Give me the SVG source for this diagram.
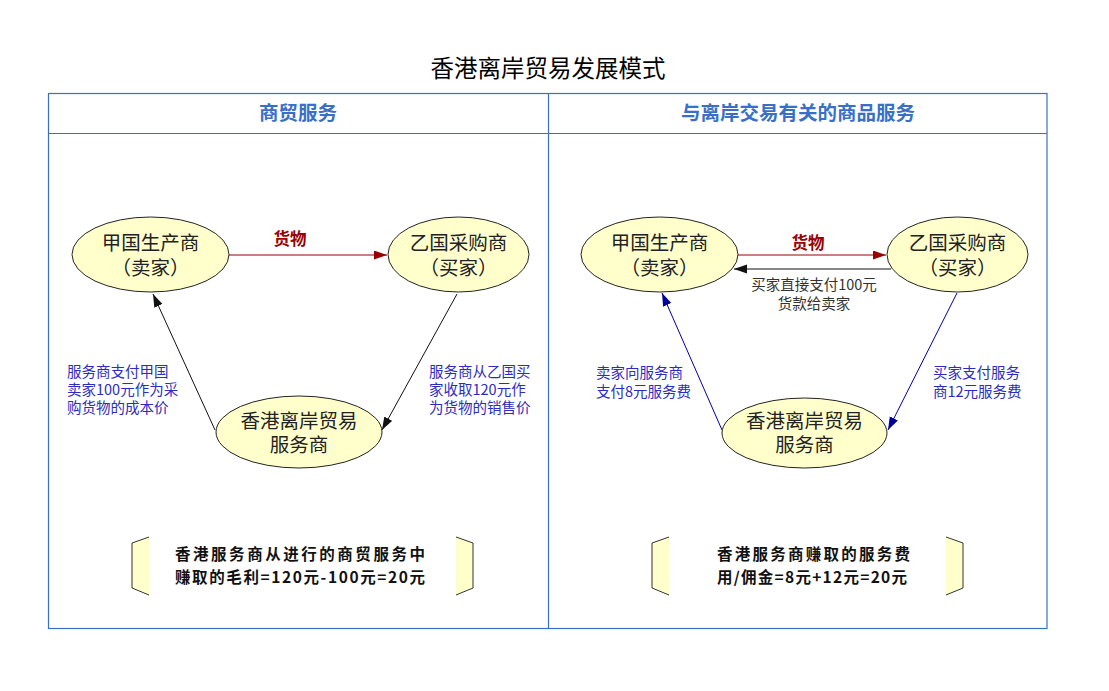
<svg xmlns="http://www.w3.org/2000/svg" width="1109" height="691" viewBox="0 0 1109 691">
<style>
.t{font-family:"Noto Sans CJK SC","Liberation Sans",sans-serif;}
.title{font-size:23.5px;fill:#000;}
.hdr{font-size:19.5px;font-weight:bold;fill:#3a6fc8;}
.node{fill:#ffffcc;stroke:#222;stroke-width:1;}
.nt{font-size:19.5px;fill:#222;}
.lbl{font-size:14.5px;fill:#2c2cc0;}
.blk{font-size:14.5px;fill:#333;}
.goods{font-size:16.5px;font-weight:bold;fill:#990000;}
.box{fill:#ffffcc;stroke:#333;stroke-width:1;}
.boxfill{fill:#ffffcc;stroke:none;}
.bt{font-size:15.5px;font-weight:bold;fill:#111;}
.frame{fill:none;stroke:#3a6fc8;stroke-width:1.2;}
</style>
<defs>
<marker id="ab" markerUnits="userSpaceOnUse" markerWidth="14" markerHeight="10" refX="13" refY="4.5" orient="auto"><path d="M0,0 L13,4.5 L0,9 z" fill="#111"/></marker>
<marker id="ar" markerUnits="userSpaceOnUse" markerWidth="14" markerHeight="10" refX="13" refY="4.5" orient="auto"><path d="M0,0 L13,4.5 L0,9 z" fill="#990000"/></marker>
<marker id="au" markerUnits="userSpaceOnUse" markerWidth="14" markerHeight="10" refX="13" refY="4.5" orient="auto"><path d="M0,0 L13,4.5 L0,9 z" fill="#0000a0"/></marker>
</defs>
<rect width="1109" height="691" fill="#fff"/>
<text class="t title" x="548" y="77" text-anchor="middle">香港离岸贸易发展模式</text>
<g id="frame">
<rect class="frame" x="48.5" y="93.5" width="998.5" height="535"/>
<line class="frame" x1="48.5" y1="133.5" x2="1047" y2="133.5"/>
<line class="frame" x1="548.5" y1="93.5" x2="548.5" y2="628.5" stroke-width="0.8"/>
<text class="t hdr" x="298" y="120" text-anchor="middle">商贸服务</text>
<text class="t hdr" x="798" y="120" text-anchor="middle">与离岸交易有关的商品服务</text>
</g>
<g id="connectors">
<line x1="229" y1="255" x2="387" y2="255" stroke="#990000" stroke-width="1.2" marker-end="url(#ar)"/>
<line x1="215" y1="430" x2="153" y2="294" stroke="#111" stroke-width="1" marker-end="url(#ab)"/>
<line x1="457" y1="294" x2="382" y2="430" stroke="#111" stroke-width="1" marker-end="url(#ab)"/>
<line x1="738" y1="255" x2="886" y2="255" stroke="#990000" stroke-width="1.2" marker-end="url(#ar)"/>
<line x1="891" y1="269" x2="734" y2="269" stroke="#111" stroke-width="1.2" marker-end="url(#ab)"/>
<line x1="722" y1="430" x2="662" y2="293" stroke="#0000a0" stroke-width="1" marker-end="url(#au)"/>
<line x1="957" y1="293" x2="888" y2="430" stroke="#0000a0" stroke-width="1" marker-end="url(#au)"/>
<text class="t goods" x="290" y="245" text-anchor="middle">货物</text>
<text class="t goods" x="808" y="249" text-anchor="middle">货物</text>
<text class="t blk" x="814" y="290" text-anchor="middle">买家直接支付100元</text>
<text class="t blk" x="814" y="309" text-anchor="middle">货款给卖家</text>
<text class="t lbl" x="67" y="377">服务商支付甲国</text>
<text class="t lbl" x="67" y="395">卖家100元作为采</text>
<text class="t lbl" x="67" y="413">购货物的成本价</text>
<text class="t lbl" x="429" y="377">服务商从乙国买</text>
<text class="t lbl" x="429" y="395">家收取120元作</text>
<text class="t lbl" x="429" y="413">为货物的销售价</text>
<text class="t lbl" x="596" y="378">卖家向服务商</text>
<text class="t lbl" x="596" y="397">支付8元服务费</text>
<text class="t lbl" x="933" y="378">买家支付服务</text>
<text class="t lbl" x="933" y="397">商12元服务费</text>
</g>
<g id="seller1">
<ellipse class="node" cx="150.5" cy="254.5" rx="78.5" ry="37.5"/>
<text class="t nt" x="150.5" y="250" text-anchor="middle">甲国生产商</text>
<text class="t nt" x="150.5" y="275" text-anchor="middle">（卖家）</text>
</g>
<g id="buyer1">
<ellipse class="node" cx="458.5" cy="254.5" rx="70.5" ry="37.5"/>
<text class="t nt" x="458.5" y="250" text-anchor="middle">乙国采购商</text>
<text class="t nt" x="458.5" y="275" text-anchor="middle">（买家）</text>
</g>
<g id="hk1">
<ellipse class="node" cx="299" cy="432" rx="83" ry="36"/>
<text class="t nt" x="299" y="428" text-anchor="middle">香港离岸贸易</text>
<text class="t nt" x="299" y="452" text-anchor="middle">服务商</text>
</g>
<g id="seller2">
<ellipse class="node" cx="659.5" cy="254.5" rx="78.5" ry="37.5"/>
<text class="t nt" x="659.5" y="250" text-anchor="middle">甲国生产商</text>
<text class="t nt" x="659.5" y="275" text-anchor="middle">（卖家）</text>
</g>
<g id="buyer2">
<ellipse class="node" cx="957.5" cy="254.5" rx="70.5" ry="37.5"/>
<text class="t nt" x="957.5" y="250" text-anchor="middle">乙国采购商</text>
<text class="t nt" x="957.5" y="275" text-anchor="middle">（买家）</text>
</g>
<g id="hk2">
<ellipse class="node" cx="804.5" cy="433" rx="82.5" ry="35"/>
<text class="t nt" x="804.5" y="428" text-anchor="middle">香港离岸贸易</text>
<text class="t nt" x="804.5" y="452" text-anchor="middle">服务商</text>
</g>
<g id="summary1">
<polygon class="boxfill" points="149,537 132,543 132,588 149,595"/>
<polyline class="box" fill="none" points="149,537 132,543 132,588 149,595"/>
<polygon class="boxfill" points="456,537 473,543 473,588 456,595"/>
<polyline class="box" fill="none" points="456,537 473,543 473,588 456,595"/>
<text class="t bt" x="175" y="560" textLength="250" lengthAdjust="spacing">香港服务商从进行的商贸服务中</text>
<text class="t bt" x="175" y="583" textLength="250" lengthAdjust="spacing">赚取的毛利=120元-100元=20元</text>
</g>
<g id="summary2">
<polygon class="boxfill" points="669,537 652,543 652,588 669,595"/>
<polyline class="box" fill="none" points="669,537 652,543 652,588 669,595"/>
<polygon class="boxfill" points="946,537 963,543 963,588 946,595"/>
<polyline class="box" fill="none" points="946,537 963,543 963,588 946,595"/>
<text class="t bt" x="717" y="560" textLength="193" lengthAdjust="spacing">香港服务商赚取的服务费</text>
<text class="t bt" x="717" y="583" textLength="190" lengthAdjust="spacing">用/佣金=8元+12元=20元</text>
</g>
</svg>
